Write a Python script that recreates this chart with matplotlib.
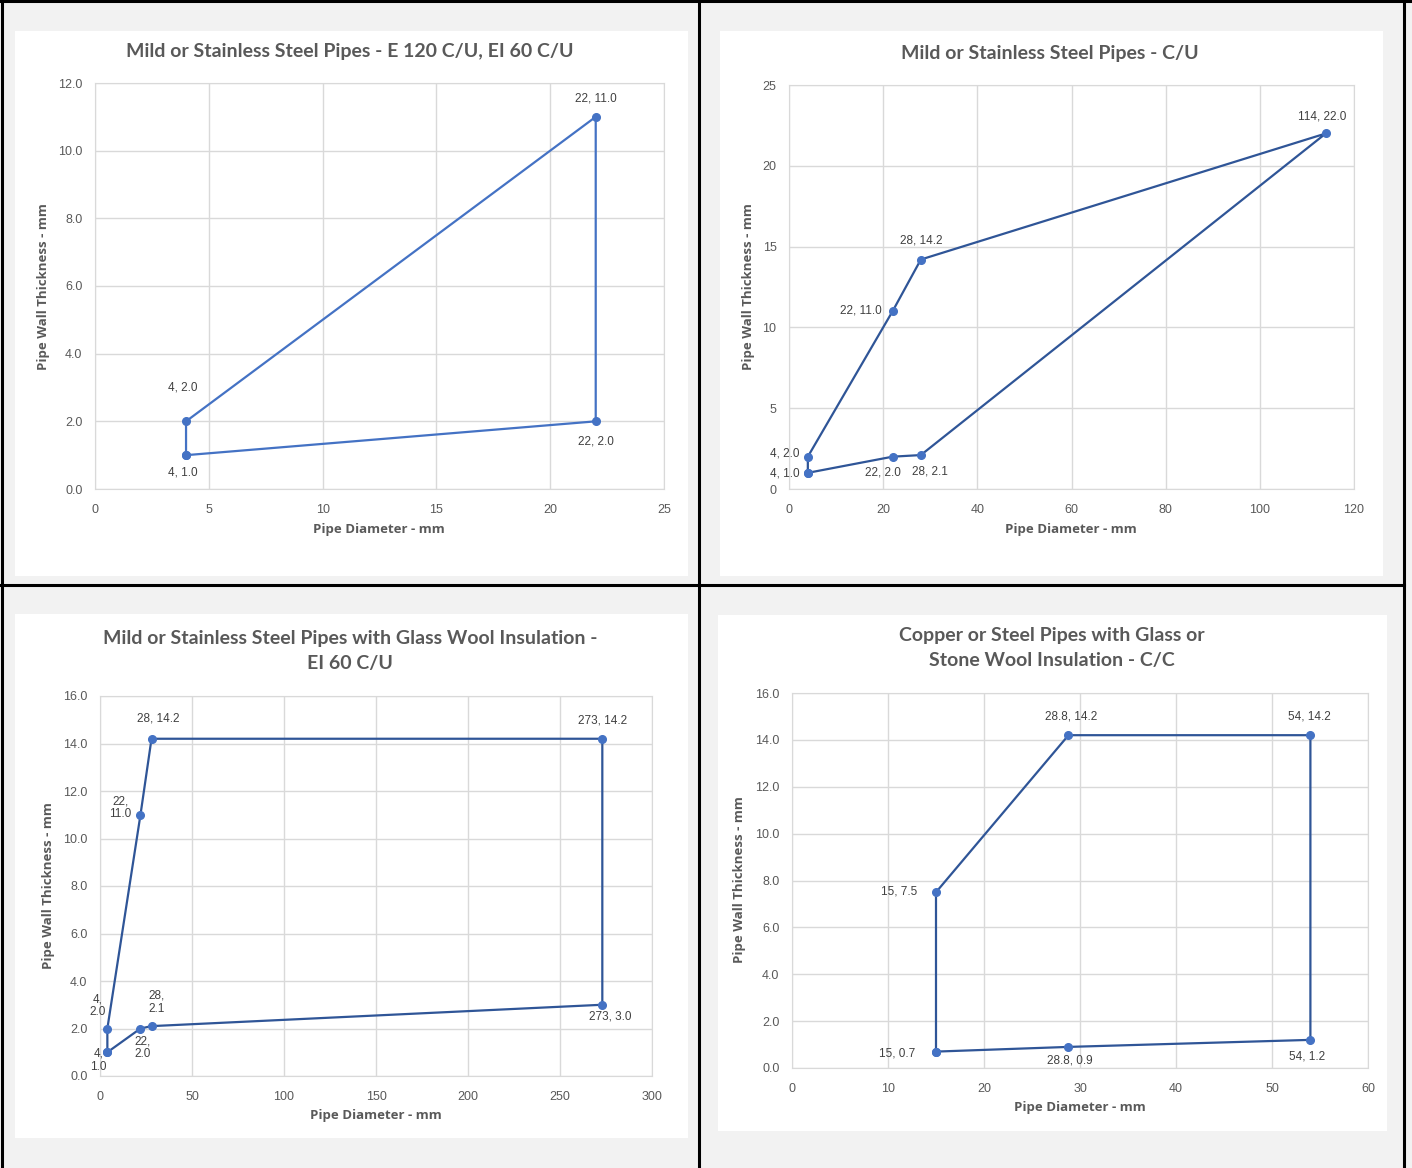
import matplotlib
matplotlib.use("Agg")
import matplotlib.pyplot as plt
from matplotlib.patches import Rectangle
from matplotlib.ticker import FormatStrFormatter

W, H = 1412, 1168

# panel 1 - E 120 C/U, EI 60 C/U
p1_x = [4, 4, 22, 22, 4]
p1_y = [1.0, 2.0, 11.0, 2.0, 1.0]

# panel 2 - C/U
p2_x = [4, 4, 22, 28, 114, 28, 22, 4]
p2_y = [1.0, 2.0, 11.0, 14.2, 22.0, 2.1, 2.0, 1.0]

# panel 3 - glass wool, EI 60 C/U
p3_x = [4, 4, 22, 28, 273, 273, 28, 22, 4]
p3_y = [1.0, 2.0, 11.0, 14.2, 14.2, 3.0, 2.1, 2.0, 1.0]

# panel 4 - copper or steel, C/C
p4_x = [15, 15, 28.8, 54, 54, 28.8, 15]
p4_y = [0.7, 7.5, 14.2, 14.2, 1.2, 0.9, 0.7]

titles = [
    "Mild or Stainless Steel Pipes - E 120 C/U, EI 60 C/U",
    "Mild or Stainless Steel Pipes - C/U",
    "Mild or Stainless Steel Pipes with Glass Wool Insulation -\nEI 60 C/U",
    "Copper or Steel Pipes with Glass or\nStone Wool Insulation - C/C",
]

GREY = "#595959"
TITLE_FONT = ["Lato", "DejaVu Sans"]
TICK_FONT = ["Liberation Sans", "DejaVu Sans"]
LABEL_FONT = ["Open Sans", "DejaVu Sans"]


def fig_rect(x0, y0, x1, y1):
    return [x0 / W, 1 - y1 / H, (x1 - x0) / W, (y1 - y0) / H]


fig = plt.figure(figsize=(W / 100, H / 100), dpi=100)
fig.patch.set_facecolor("#f2f2f2")

# white chart boxes behind each chart
for bx in [(15, 31, 688, 576), (720, 31, 1383, 576), (15, 614, 688, 1138), (718, 615, 1387, 1131)]:
    fig.patches.append(Rectangle((bx[0] / W, 1 - bx[3] / H), (bx[2] - bx[0]) / W, (bx[3] - bx[1]) / H,
                                 transform=fig.transFigure, facecolor="white", edgecolor="none", zorder=-10))

# black frame lines
for seg in [((0, W), (1, 1)), ((1.5, 1.5), (0, H)), ((1404, 1404), (0, H)),
            ((699, 699), (0, H)), ((0, 1404), (585, 585))]:
    xs = [v / W for v in seg[0]]
    ys = [1 - v / H for v in seg[1]]
    fig.add_artist(plt.Line2D(xs, ys, color="black", lw=2.2, transform=fig.transFigure, zorder=5))


def make_panel(rect, xs, ys, xlim, xstep, ylim, ystep, yfmt, color, offsets, wrap=False):
    ax = fig.add_axes(fig_rect(*rect))
    ax.set_facecolor("white")
    ax.set_xlim(*xlim)
    ax.set_ylim(*ylim)
    ax.set_xticks(range(xlim[0], xlim[1] + 1, xstep))
    yt = []
    v = ylim[0]
    while v <= ylim[1] + 1e-9:
        yt.append(v)
        v += ystep
    ax.set_yticks(yt)
    ax.yaxis.set_major_formatter(FormatStrFormatter(yfmt))
    ax.grid(True, color="#d9d9d9", lw=1)
    ax.set_axisbelow(True)
    for s in ax.spines.values():
        s.set_color("#d9d9d9")
    ax.tick_params(length=0, labelsize=9, labelcolor=GREY)
    ax.tick_params(axis="x", pad=11)
    ax.tick_params(axis="y", pad=9)
    for lab in ax.get_xticklabels() + ax.get_yticklabels():
        lab.set_family(TICK_FONT)
    ax.plot(xs, ys, "-o", color=color, lw=1.6, ms=5.5, mfc="#4472C4", mec="#4472C4", clip_on=False)
    seen = set()
    for (x, y), off in zip(zip(xs, ys), offsets):
        if (x, y) in seen or off is None:
            continue
        seen.add((x, y))
        txt = f"{x:g}, {y:.1f}"
        if wrap and off[2]:
            txt = txt.replace(", ", ",\n")
        ax.annotate(txt, (x, y), xytext=(off[0], off[1]), textcoords="offset pixels",
                    ha="center", va="center", fontsize=8.5, color="#404040",
                    family=TICK_FONT, linespacing=1.1)
    return ax


def add_texts(title, tx, ty, ylx, yly, xlx, xly):
    fig.text(tx / W, 1 - ty / H, title, ha="center", va="center", fontsize=14,
             fontweight="bold", color=GREY, family=TITLE_FONT, linespacing=1.55)
    fig.text(ylx / W, 1 - yly / H, "Pipe Wall Thickness - mm", rotation=90, ha="center", va="center",
             fontsize=9.5, fontweight="bold", color=GREY, family=LABEL_FONT)
    fig.text(xlx / W, 1 - xly / H, "Pipe Diameter - mm", ha="center", va="center",
             fontsize=9.5, fontweight="bold", color=GREY, family=LABEL_FONT)


# label offsets (dx, dy in pixels, wrap flag)
off1 = [(-3, -17, 0), (-3, 34, 0), (0, 18, 0), (0, -20, 0), None]
make_panel((95, 83, 664, 489), p1_x, p1_y, (0, 25), 5, (0, 12), 2, "%.1f", "#4472C4", off1)
add_texts(titles[0], 350, 51, 44, 287, 379, 530)

off2 = [(-23, -1, 0), (-23, 3, 0), (-32, 1, 0), (0, 19, 0), (-4, 17, 0), (9, -16, 0), (-10, -16, 0), None]
make_panel((789, 85, 1354, 489), p2_x, p2_y, (0, 120), 20, (0, 25), 5, "%d", "#2F5597", off2)
add_texts(titles[1], 1050, 53, 749, 287, 1071, 530)

off3 = [(-9, -8, 1), (-10, 23, 1), (-20, 7, 1), (7, 20, 0), (0, 18, 0), (8, -12, 0), (5, 24, 1), (2, -19, 1), None]
make_panel((100, 696, 652, 1076), p3_x, p3_y, (0, 300), 50, (0, 16), 2, "%.1f", "#2F5597", off3, wrap=True)
add_texts(titles[2], 350, 651, 49, 886, 376, 1115)

off4 = [(-39, -2, 0), (-37, 1, 0), (3, 19, 0), (-1, 19, 0), (-3, -17, 0), (1, -14, 0), None]
make_panel((792, 693, 1368, 1068), p4_x, p4_y, (0, 60), 10, (0, 16), 2, "%.1f", "#2F5597", off4)
add_texts(titles[3], 1052, 648, 740, 880, 1080, 1108)

fig.savefig("out.png", dpi=100, facecolor=fig.get_facecolor())
